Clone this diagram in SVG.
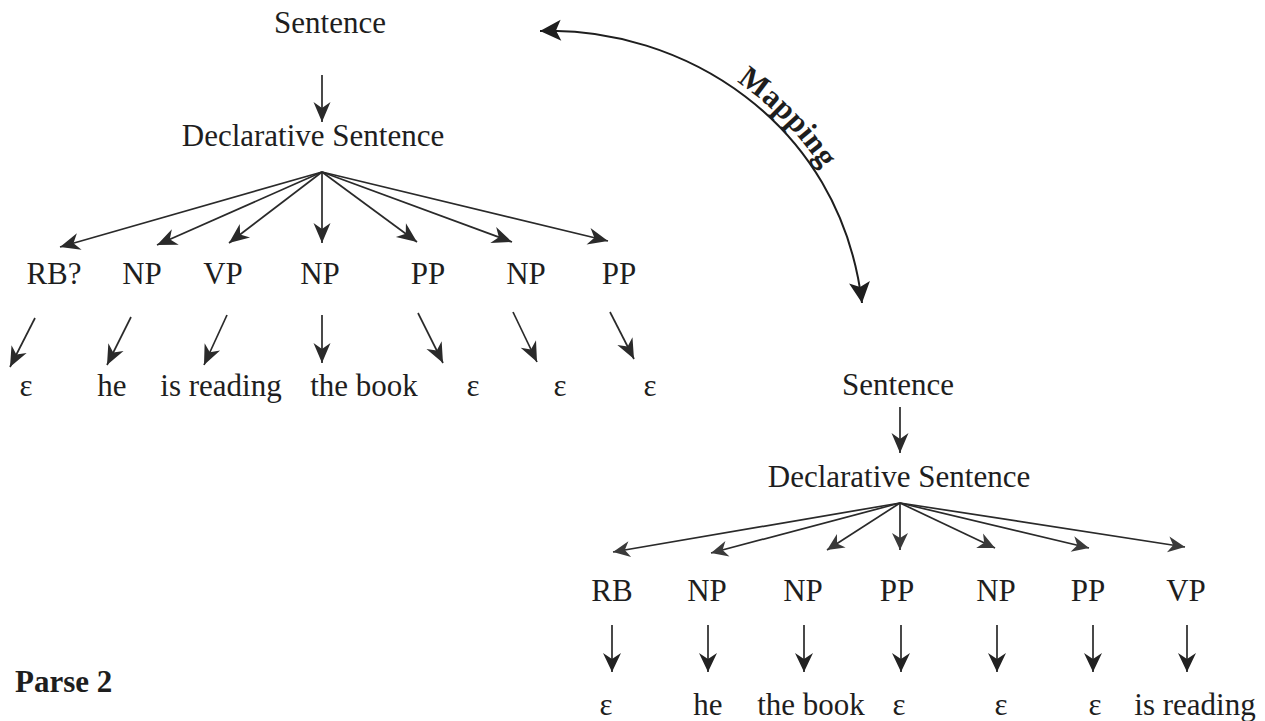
<svg xmlns="http://www.w3.org/2000/svg" width="1265" height="721" viewBox="0 0 1265 721">
<style>
text{font-family:"Liberation Serif","Times New Roman",serif;font-size:31px;fill:#1e1e1e;text-anchor:middle}
.b{font-weight:bold}
.e line{stroke:#2a2a2a;stroke-width:1.7;fill:none;marker-end:url(#ah)}
.e .s{marker-end:url(#ahs)}
.e .v{marker-end:url(#ahv)}
.map{stroke:#1e1e1e;stroke-width:2;fill:none;marker-start:url(#ahb);marker-end:url(#ahb)}
</style>
<defs>
<marker id="ah" markerUnits="userSpaceOnUse" viewBox="-24 -12 26 24" markerWidth="26" markerHeight="24" refX="0" refY="0" orient="auto" overflow="visible">
<path d="M0,0 L-20,-8.5 L-14,0 L-20,8.5 Z" fill="#2a2a2a"/>
</marker>
<marker id="ahs" markerUnits="userSpaceOnUse" viewBox="-24 -12 26 24" markerWidth="26" markerHeight="24" refX="0" refY="0" orient="auto" overflow="visible">
<path d="M0,0 L-17,-8 L-12,0 L-17,8 Z" fill="#3a3a3a"/>
</marker>
<marker id="ahv" markerUnits="userSpaceOnUse" viewBox="-24 -12 26 24" markerWidth="26" markerHeight="24" refX="0" refY="0" orient="auto" overflow="visible">
<path d="M0,0 L-19,-9 L-13,0 L-19,9 Z" fill="#222222"/>
</marker>
<marker id="ahb" markerUnits="userSpaceOnUse" viewBox="-26 -13 28 26" markerWidth="28" markerHeight="26" refX="0" refY="0" orient="auto-start-reverse" overflow="visible">
<path d="M0,0 L-21,-10.5 L-16,0 L-21,10.5 Z" fill="#1e1e1e"/>
</marker>
</defs>
<rect width="1265" height="721" fill="#ffffff"/>

<g id="connectors" class="e">
<line x1="322" y1="75" x2="322" y2="122"/>
<line x1="322" y1="172" x2="60" y2="247"/>
<line x1="322" y1="172" x2="157" y2="245"/>
<line x1="322" y1="172" x2="229" y2="243"/>
<line x1="322" y1="172" x2="322" y2="243"/>
<line x1="322" y1="172" x2="417" y2="242"/>
<line x1="322" y1="172" x2="512" y2="242"/>
<line x1="322" y1="172" x2="608" y2="241"/>
<line x1="35" y1="318" x2="10" y2="367"/>
<line x1="131" y1="317" x2="107" y2="365"/>
<line x1="227" y1="315" x2="204" y2="365"/>
<line x1="322" y1="315" x2="322" y2="363"/>
<line x1="418" y1="313" x2="443" y2="363"/>
<line x1="513" y1="312" x2="537" y2="362"/>
<line x1="610" y1="312" x2="634" y2="359"/>

<line x1="900" y1="407" x2="900" y2="453"/>
<line class="s" x1="900" y1="503" x2="613" y2="552"/>
<line class="s" x1="900" y1="503" x2="711" y2="553"/>
<line class="s" x1="900" y1="503" x2="827" y2="550"/>
<line class="s" x1="900" y1="503" x2="900" y2="550"/>
<line class="s" x1="900" y1="503" x2="995" y2="548"/>
<line class="s" x1="900" y1="503" x2="1089" y2="548"/>
<line class="s" x1="900" y1="503" x2="1185" y2="547"/>
<line class="v" x1="612" y1="625" x2="612" y2="672"/>
<line class="v" x1="708" y1="625" x2="708" y2="672"/>
<line class="v" x1="804" y1="625" x2="804" y2="672"/>
<line class="v" x1="901" y1="625" x2="901" y2="672"/>
<line class="v" x1="997" y1="625" x2="997" y2="672"/>
<line class="v" x1="1093" y1="625" x2="1093" y2="672"/>
<line class="v" x1="1187" y1="625" x2="1187" y2="672"/>

<path id="maparc" class="map" d="M540,31 C680,26 840,120 862,303"/>
</g>

<g id="mapping-label">
<text class="b" font-size="28" dy="-7"><textPath href="#maparc" startOffset="264" text-anchor="middle">Mapping</textPath></text>
</g>

<g id="left-sentence"><text x="330" y="33">Sentence</text></g>
<g id="left-declarative"><text x="313" y="146">Declarative Sentence</text></g>
<g id="left-rb"><text x="54" y="284">RB?</text></g>
<g id="left-np1"><text x="142" y="284">NP</text></g>
<g id="left-vp"><text x="223" y="284">VP</text></g>
<g id="left-np2"><text x="320" y="284">NP</text></g>
<g id="left-pp1"><text x="428" y="284">PP</text></g>
<g id="left-np3"><text x="526" y="284">NP</text></g>
<g id="left-pp2"><text x="619" y="284">PP</text></g>
<g id="left-leaf1"><text x="26" y="396">ε</text></g>
<g id="left-leaf2"><text x="112" y="396">he</text></g>
<g id="left-leaf3"><text x="221" y="396">is reading</text></g>
<g id="left-leaf4"><text x="364" y="396">the book</text></g>
<g id="left-leaf5"><text x="473" y="396">ε</text></g>
<g id="left-leaf6"><text x="560" y="396">ε</text></g>
<g id="left-leaf7"><text x="650" y="396">ε</text></g>

<g id="right-sentence"><text x="898" y="395">Sentence</text></g>
<g id="right-declarative"><text x="899" y="487">Declarative Sentence</text></g>
<g id="right-rb"><text x="612" y="601">RB</text></g>
<g id="right-np1"><text x="707" y="601">NP</text></g>
<g id="right-np2"><text x="803" y="601">NP</text></g>
<g id="right-pp1"><text x="897" y="601">PP</text></g>
<g id="right-np3"><text x="996" y="601">NP</text></g>
<g id="right-pp2"><text x="1088" y="601">PP</text></g>
<g id="right-vp"><text x="1186" y="601">VP</text></g>
<g id="right-leaf1"><text x="606" y="715">ε</text></g>
<g id="right-leaf2"><text x="708" y="715">he</text></g>
<g id="right-leaf3"><text x="811" y="715">the book</text></g>
<g id="right-leaf4"><text x="899" y="715">ε</text></g>
<g id="right-leaf5"><text x="1001" y="715">ε</text></g>
<g id="right-leaf6"><text x="1095" y="715">ε</text></g>
<g id="right-leaf7"><text x="1195" y="715">is reading</text></g>

<g id="parse-label"><text class="b" x="15" y="692" font-size="30" style="text-anchor:start">Parse 2</text></g>
</svg>
